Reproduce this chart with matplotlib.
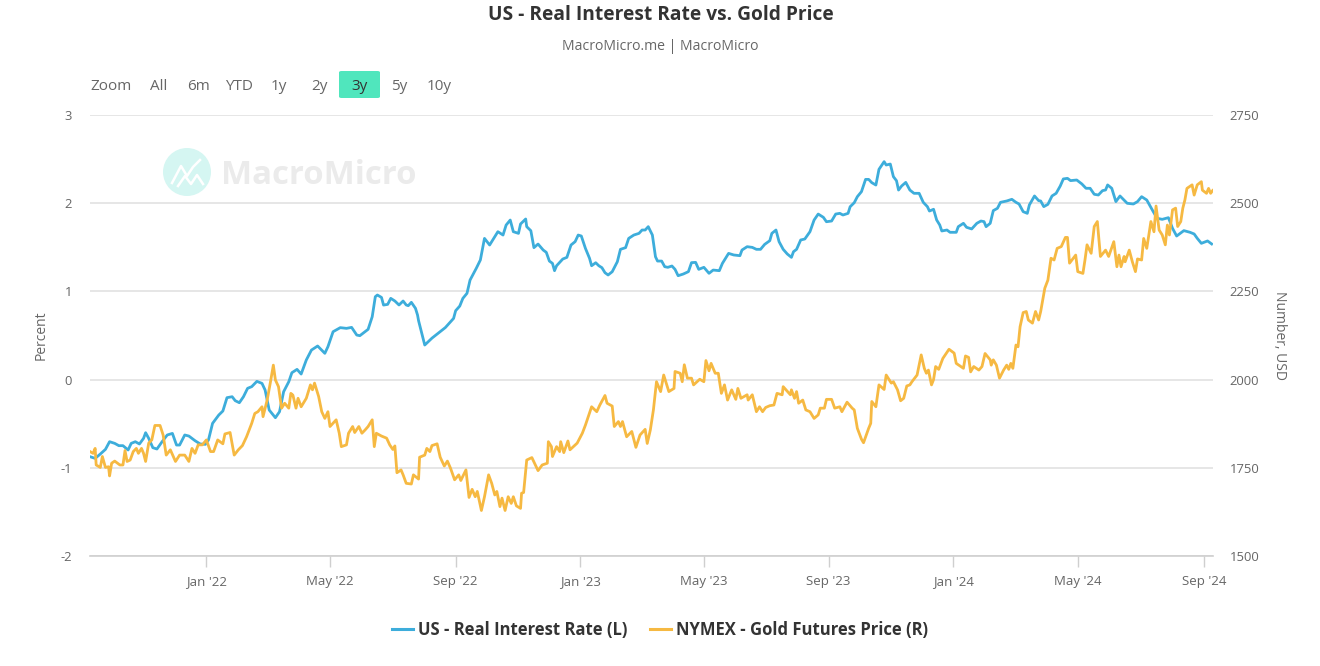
import matplotlib
matplotlib.use("Agg")
import matplotlib.pyplot as plt
from matplotlib.lines import Line2D
from matplotlib.patches import Ellipse, FancyBboxPatch

plt.rcParams['font.family'] = ['Open Sans', 'DejaVu Sans']
plt.rcParams['axes.unicode_minus'] = False

title = "US - Real Interest Rate vs. Gold Price"
subtitle = "MacroMicro.me | MacroMicro"
range_labels = ["Zoom", "All", "6m", "YTD", "1y", "2y", "3y", "5y", "10y"]
series_names = ["US - Real Interest Rate (L)", "NYMEX - Gold Futures Price (R)"]
x_tick_days = [113, 233, 355, 476, 596, 717, 838, 959, 1082]
x_tick_labels = ["Jan '22", "May '22", "Sep '22", "Jan '23", "May '23", "Sep '23", "Jan '24", "May '24", "Sep '24"]
left_ticks = [-2, -1, 0, 1, 2, 3]
right_ticks = [1500, 1750, 2000, 2250, 2500, 2750]

rate_days = [0,5,10,15,19,24,28,32,37,40,44,48,52,54,57,61,65,70,75,80,84,87,92,96,102,107,112,115,119,125,129,133,138,141,145,149,153,157,162,167,170,172,174,180,184,188,193,196,201,205,210,215,221,228,231,236,243,249,254,259,262,270,274,277,279,283,285,289,292,296,300,304,307,309,312,316,318,319,325,332,345,353,355,359,362,366,369,375,379,383,388,392,396,401,404,408,411,416,418,423,424,428,431,435,440,443,446,449,451,453,459,463,467,471,474,477,481,485,487,491,494,497,500,503,507,512,515,520,523,528,533,536,539,542,546,549,551,555,558,561,565,568,571,576,581,584,588,591,596,601,605,611,614,620,625,631,633,638,643,647,651,655,660,662,666,669,673,677,681,683,686,690,694,699,703,707,712,715,720,724,728,731,736,738,742,745,749,753,756,759,763,766,771,773,777,780,783,785,788,792,796,800,805,809,813,815,819,822,825,827,832,835,841,843,848,851,856,861,865,868,870,874,877,881,884,890,895,899,902,906,910,912,917,921,923,926,930,934,938,942,945,949,952,958,963,967,971,975,979,983,986,988,992,996,1000,1007,1013,1017,1021,1026,1031,1036,1041,1047,1051,1055,1062,1068,1072,1075,1079,1085,1089]
rate_values = [-0.874,-0.893,-0.844,-0.791,-0.704,-0.723,-0.749,-0.749,-0.798,-0.723,-0.704,-0.730,-0.666,-0.602,-0.666,-0.772,-0.787,-0.704,-0.628,-0.610,-0.742,-0.742,-0.628,-0.640,-0.693,-0.730,-0.734,-0.685,-0.496,-0.402,-0.356,-0.205,-0.194,-0.239,-0.262,-0.194,-0.099,-0.080,-0.020,-0.043,-0.118,-0.232,-0.345,-0.432,-0.364,-0.137,-0.024,0.078,0.116,0.063,0.222,0.335,0.381,0.298,0.373,0.543,0.589,0.581,0.592,0.505,0.498,0.570,0.713,0.940,0.959,0.932,0.845,0.853,0.921,0.891,0.846,0.891,0.846,0.838,0.876,0.808,0.732,0.668,0.392,0.470,0.590,0.694,0.781,0.834,0.921,0.978,1.129,1.261,1.356,1.601,1.526,1.601,1.677,1.639,1.752,1.809,1.677,1.658,1.764,1.821,1.734,1.688,1.496,1.537,1.469,1.443,1.344,1.318,1.235,1.291,1.367,1.386,1.526,1.564,1.639,1.628,1.488,1.375,1.291,1.325,1.291,1.269,1.212,1.186,1.223,1.337,1.477,1.496,1.601,1.639,1.658,1.696,1.696,1.734,1.639,1.393,1.344,1.344,1.280,1.273,1.288,1.250,1.178,1.197,1.224,1.326,1.329,1.250,1.273,1.205,1.242,1.235,1.318,1.431,1.413,1.405,1.469,1.507,1.499,1.477,1.477,1.533,1.575,1.658,1.696,1.564,1.477,1.424,1.386,1.450,1.477,1.583,1.594,1.677,1.809,1.877,1.840,1.790,1.798,1.877,1.885,1.866,1.885,1.960,2.006,2.074,2.131,2.270,2.270,2.233,2.206,2.384,2.471,2.433,2.444,2.301,2.255,2.149,2.195,2.236,2.149,2.112,2.112,2.010,1.961,1.911,1.931,1.810,1.753,1.685,1.696,1.670,1.670,1.734,1.772,1.727,1.708,1.772,1.798,1.791,1.734,1.772,1.916,1.942,2.010,2.025,2.044,2.010,1.991,1.904,1.885,1.980,2.082,2.029,2.025,1.961,1.987,2.082,2.112,2.195,2.275,2.282,2.256,2.263,2.218,2.169,2.169,2.101,2.093,2.142,2.150,2.207,2.169,2.018,2.082,1.999,1.991,2.018,2.074,2.036,1.931,1.829,1.817,1.836,1.715,1.628,1.689,1.670,1.651,1.602,1.545,1.572,1.538]

gold_days = [0,3,5,6,10,12,15,18,19,21,24,29,32,34,36,39,42,45,47,50,52,54,57,60,63,68,71,74,78,83,87,92,96,99,102,105,109,113,117,120,124,129,131,136,140,144,148,152,157,160,163,167,168,172,175,178,180,183,186,189,193,195,197,200,202,205,210,214,216,218,222,225,228,231,233,239,242,244,249,251,255,257,261,264,267,270,274,276,278,283,288,291,294,296,298,302,304,307,312,314,319,320,325,327,330,332,337,340,344,347,350,354,358,360,365,368,371,374,376,380,383,387,390,393,395,398,400,403,406,409,411,414,418,419,421,424,429,435,439,444,445,448,449,453,456,457,460,464,466,473,478,481,487,492,495,500,502,507,509,513,515,517,521,526,530,534,539,541,544,547,550,554,557,562,567,568,573,575,577,580,584,586,592,596,598,601,603,607,610,613,616,619,623,627,629,632,638,639,643,647,650,653,656,660,664,667,672,673,680,681,684,686,688,692,695,699,703,707,709,713,715,720,723,728,730,735,740,742,745,749,751,756,758,759,763,766,771,773,778,780,784,787,790,793,796,798,803,807,810,812,814,817,819,821,824,828,834,839,841,848,850,853,855,858,863,866,869,874,875,877,880,883,887,890,892,894,896,899,901,903,906,909,911,915,918,921,923,927,930,933,936,939,943,947,949,951,957,959,964,966,968,972,975,978,981,986,989,994,997,999,1001,1004,1005,1009,1012,1015,1017,1021,1023,1026,1030,1033,1035,1038,1041,1044,1046,1048,1051,1054,1056,1059,1061,1063,1065,1070,1072,1075,1079,1080,1084,1086,1088,1090]
gold_values = [1796,1791,1805,1758,1751,1782,1751,1753,1727,1763,1769,1758,1758,1799,1768,1772,1796,1805,1791,1805,1791,1768,1820,1829,1870,1870,1843,1786,1801,1768,1786,1786,1768,1805,1791,1815,1815,1829,1796,1796,1829,1818,1846,1850,1786,1801,1813,1838,1876,1904,1909,1923,1895,1942,1990,2041,1999,1980,1919,1933,1919,1961,1956,1919,1947,1923,1947,1985,1971,1990,1952,1909,1890,1909,1867,1886,1848,1810,1815,1848,1867,1850,1867,1848,1857,1867,1886,1810,1848,1840,1834,1815,1802,1812,1736,1744,1730,1706,1704,1730,1718,1780,1786,1805,1796,1813,1818,1780,1755,1769,1749,1716,1730,1714,1744,1666,1689,1668,1683,1629,1668,1730,1706,1673,1683,1640,1664,1629,1668,1649,1668,1642,1635,1678,1680,1772,1779,1742,1758,1763,1824,1810,1782,1810,1796,1824,1793,1826,1801,1820,1848,1871,1923,1909,1928,1955,1933,1925,1867,1881,1867,1881,1838,1853,1808,1843,1859,1819,1857,1914,1994,1966,2013,1966,1975,2023,2018,1994,2042,2004,2004,1985,2001,1994,2054,2025,2046,2018,2018,1961,1985,1942,1971,1944,1975,1947,1957,1942,1957,1909,1923,1909,1921,1926,1928,1961,1957,1980,1957,1971,1947,1966,1933,1942,1914,1909,1890,1900,1919,1919,1944,1944,1919,1923,1909,1936,1919,1914,1862,1831,1821,1862,1876,1938,1923,1985,1972,2013,1990,1994,1971,1940,1947,1982,1985,1994,2013,2070,2032,2018,2027,1985,2000,2037,2029,2060,2086,2075,2046,2032,2067,2063,2022,2037,2027,2037,2074,2056,2041,2056,2041,2004,2027,2041,2029,2046,2032,2098,2093,2150,2190,2193,2169,2160,2193,2169,2193,2259,2282,2344,2339,2372,2377,2403,2403,2330,2353,2306,2301,2339,2382,2358,2434,2448,2349,2367,2349,2391,2320,2353,2320,2349,2334,2367,2334,2306,2342,2339,2400,2372,2448,2419,2492,2424,2410,2382,2438,2410,2481,2486,2434,2448,2486,2509,2542,2552,2523,2552,2561,2537,2528,2542,2528,2536]

W, H = 1320, 666
BLUE = "#3daddb"
GOLD = "#f6b942"
GREY = "#666666"
GRID = "#e6e6e6"

fig = plt.figure(figsize=(W / 100, H / 100), dpi=100, facecolor="white")

def fx(px):
    return px / W

def fy(py):
    return 1 - py / H

ax = fig.add_axes([fx(90), fy(556), fx(1213) - fx(90), fy(115) - fy(556)])
ax.set_facecolor("none")
for s in ("top", "left", "right"):
    ax.spines[s].set_visible(False)
ax.spines["bottom"].set_color("#cfcfcf")
ax.spines["bottom"].set_linewidth(1.2)
ax.set_xlim(0, 1090.3)
ax.set_ylim(-2, 3)
ax.set_yticks(left_ticks)
ax.grid(axis="y", color=GRID, linewidth=1.4)
ax.set_axisbelow(True)
ax.tick_params(axis="y", length=0, pad=13, labelsize=9.4, labelcolor=GREY)
for lab in ax.get_yticklabels():
    lab.set_y(lab.get_position()[1])
ax.set_xticks(x_tick_days)
ax.set_xticklabels(x_tick_labels)
ax.tick_params(axis="x", length=8, width=1, color="#cfcfcf", pad=6, labelsize=9.5, labelcolor=GREY)
ax.plot(rate_days, rate_values, color=BLUE, linewidth=2.0, solid_joinstyle="round", zorder=3)

ax2 = ax.twinx()
ax2.set_facecolor("none")
for s in ("top", "left", "right", "bottom"):
    ax2.spines[s].set_visible(False)
ax2.set_ylim(1500, 2750)
ax2.set_yticks(right_ticks)
ax2.tick_params(axis="y", length=0, pad=12, labelsize=9.4, labelcolor=GREY)
ax2.plot(gold_days, gold_values, color=GOLD, linewidth=2.0, solid_joinstyle="round", zorder=3)

fig.text(fx(41), fy(335), "Percent", rotation=90, ha="center", va="center", fontsize=10, color=GREY)
fig.text(fx(1279), fy(336), "Number, USD", rotation=270, ha="center", va="center", fontsize=10, color=GREY)

fig.text(fx(660.5), fy(15), title, ha="center", va="center", fontsize=13.8, fontweight="bold", color="#333333")
fig.text(fx(660), fy(46.5), subtitle, ha="center", va="center", fontsize=10.1, color=GREY)

# range selector
button_centers = [111, 159, 199, 239, 279, 319, 359, 399, 439]
fig.add_artist(FancyBboxPatch((fx(339), fy(98)), fx(41), fy(71) - fy(98),
                              boxstyle="round,pad=0,rounding_size=0.002",
                              transform=fig.transFigure, facecolor="#50e6bd", edgecolor="none"))
for label, cx in zip(range_labels, button_centers):
    color = "#333333" if label == "3y" else GREY
    fig.text(fx(cx), fy(86.5), label, ha="center", va="center", fontsize=11, color=color)

# watermark
fig.add_artist(Ellipse((fx(187), fy(172)), fx(48), 48 / H,
                       transform=fig.transFigure, facecolor="#d5f6f2", edgecolor="none"))
fig.add_artist(Line2D([fx(172), fx(181), fx(187), fx(193), fx(200)],
                      [fy(183), fy(166), fy(176), fy(167), fy(160)],
                      color="white", linewidth=1.8, transform=fig.transFigure))
fig.add_artist(Line2D([fx(178), fx(185), fx(191), fx(197), fx(203)],
                      [fy(186), fy(176), fy(184), fy(175), fy(184)],
                      color="white", linewidth=1.8, transform=fig.transFigure))
fig.text(fx(221), fy(175), "MacroMicro", ha="left", va="center", fontsize=23.7, fontweight="bold", color="#ebebeb")

# legend
handles = [Line2D([], [], color=BLUE, linewidth=2.2), Line2D([], [], color=GOLD, linewidth=2.2)]
leg = fig.legend(handles, series_names, loc="center", bbox_to_anchor=(fx(660), fy(630)), ncol=2, frameon=False,
                 handlelength=1.25, handletextpad=0.3, columnspacing=1.35,
                 prop={"size": 12, "weight": "bold"})
for t in leg.get_texts():
    t.set_color("#333333")

fig.savefig("out.png", dpi=100, facecolor="white")
